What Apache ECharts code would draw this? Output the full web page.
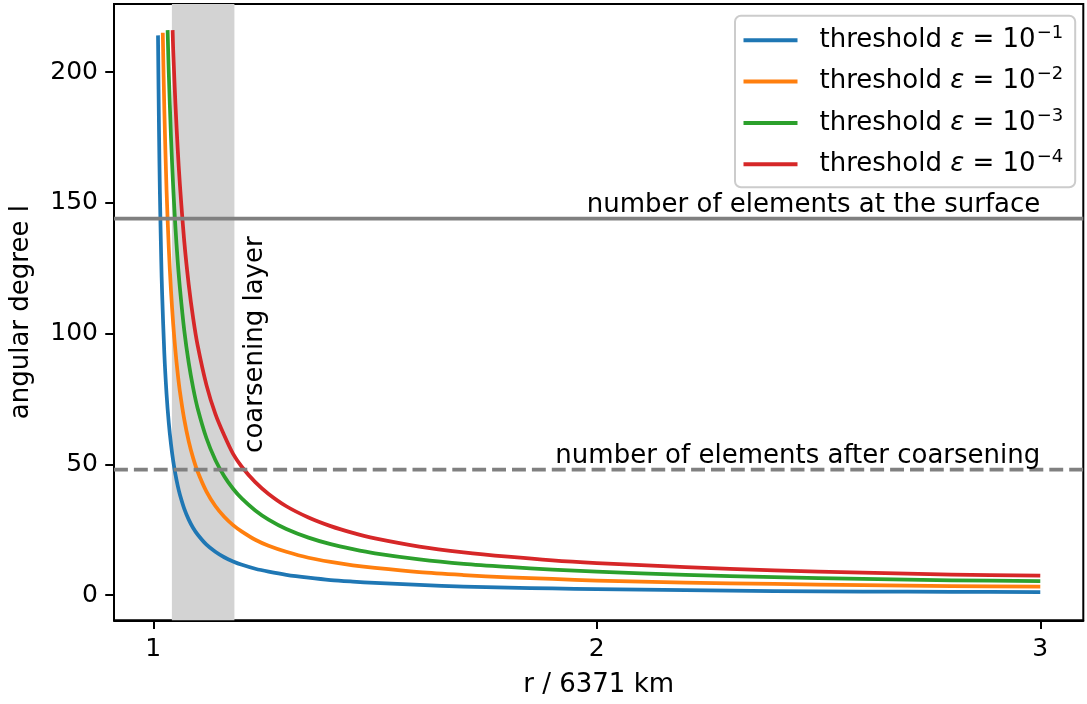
<!DOCTYPE html>
<html>
<head>
<meta charset="utf-8">
<script src="https://cdn.jsdelivr.net/npm/echarts@6/dist/echarts.min.js"></script>
<style>
html,body{margin:0;padding:0;background:#fff;}
#chart{width:1087px;height:704px;}
</style>
</head>
<body>
<div id="chart"></div>
<script>
// ---- data ----
const rEps1 = [1.0107,1.013,1.015,1.018,1.02,1.025,1.03,1.035,1.04,1.045,1.05,1.055,1.06,1.07,1.08,1.09,1.10,1.12,1.14,1.16,1.18,1.20,1.23,1.26,1.30,1.35,1.40,1.45,1.50,1.60,1.70,1.80,1.90,2.00,2.20,2.40,2.60,2.80,3.00];
const lEps1 = [214,177.3,153.7,128.1,115.3,92.3,76.9,65.9,57.7,51.3,46.2,42.0,38.5,33.0,28.9,25.7,23.2,19.3,16.6,14.5,12.9,11.6,10.1,9.0,7.8,6.7,5.8,5.2,4.7,3.9,3.3,2.9,2.6,2.3,1.9,1.6,1.4,1.25,1.2];

const rEps2 = [1.0215,1.025,1.03,1.035,1.04,1.045,1.05,1.055,1.06,1.07,1.08,1.09,1.10,1.12,1.14,1.16,1.18,1.20,1.23,1.26,1.30,1.35,1.40,1.45,1.50,1.60,1.70,1.80,1.90,2.00,2.20,2.40,2.60,2.80,3.00];
const lEps2 = [215,185.5,154.8,132.9,116.4,103.6,93.4,85.0,78.0,67.1,58.8,52.4,47.3,39.6,34.1,30.0,26.8,24.3,21.2,18.9,16.6,14.3,12.7,11.4,10.4,8.8,7.7,6.8,6.2,5.6,4.8,4.3,3.8,3.5,3.3];

const rEps3 = [1.0324,1.035,1.04,1.045,1.05,1.055,1.06,1.07,1.08,1.09,1.10,1.12,1.14,1.16,1.18,1.20,1.23,1.26,1.30,1.35,1.40,1.45,1.50,1.60,1.70,1.80,1.90,2.00,2.20,2.40,2.60,2.80,3.00];
const lEps3 = [216,199.8,175.1,155.9,140.6,128.0,117.6,101.1,88.8,79.2,71.5,60.0,51.7,45.5,40.7,36.9,32.4,28.9,25.3,22.0,19.5,17.6,16.0,13.7,12.0,10.8,9.8,9.0,7.8,6.9,6.2,5.7,5.4];

const rEps4 = [1.0437,1.045,1.05,1.055,1.06,1.07,1.08,1.09,1.10,1.12,1.14,1.16,1.18,1.20,1.23,1.26,1.30,1.35,1.40,1.45,1.50,1.60,1.70,1.80,1.90,2.00,2.20,2.40,2.60,2.80,3.00];
const lEps4 = [216,208.2,187.8,171.0,157.1,135.1,118.7,105.9,95.6,80.3,69.3,61.1,54.0,49.0,43.2,38.7,34.0,29.7,26.4,23.8,21.7,18.6,16.4,14.7,13.3,12.3,10.7,9.5,8.6,7.9,7.5];

const seriesNames = ['threshold ε = 10⁻¹','threshold ε = 10⁻²','threshold ε = 10⁻³','threshold ε = 10⁻⁴'];
const legendExp = ['−1','−2','−3','−4'];
const seriesColors = ['#1f77b4','#ff7f0e','#2ca02c','#d62728'];

const xTicks = [1,2,3];
const yTicks = [0,50,100,150,200];

const bandRange = [1.042, 1.183];          // coarsening layer (shaded)
const refLevels = [144, 48];               // horizontal reference lines
const refDashed = [false, true];

const annText = ['number of elements at the surface','number of elements after coarsening','coarsening layer'];
const annX = [3, 3, 1.2];
const annY = [144, 48, 54.4];

// ---- chart ----
const FONT = '"DejaVu Sans", "Liberation Sans", sans-serif';
const chart = echarts.init(document.getElementById('chart'), null, {renderer:'canvas'});

function zip(a, b){ return a.map((v, i) => [v, b[i]]); }
const rs = [rEps1, rEps2, rEps3, rEps4];
const ls = [lEps1, lEps2, lEps3, lEps4];

const lineSeries = seriesNames.map((name, i) => ({
  name: name,
  type: 'line',
  data: zip(rs[i], ls[i]),
  showSymbol: false,
  symbol: 'none',
  smooth: 0.3,
  z: 2,
  color: seriesColors[i],
  lineStyle: {width: 3.75, color: seriesColors[i], cap: 'butt', join: 'round'},
  emphasis: {disabled: true},
  animation: false
}));

const option = {
  animation: false,
  backgroundColor: '#ffffff',
  grid: {left: 113, right: 3.7, top: 4, bottom: 83.7, show: true, borderColor: '#000', borderWidth: 2, backgroundColor: 'transparent'},
  xAxis: {
    type: 'value', min: 0.9115, max: 3.097,
    name: 'r / 6371 km', nameLocation: 'middle', nameGap: 52,
    nameTextStyle: {fontFamily: FONT, fontSize: 26, color: '#000'},
    axisLine: {show: true, onZero: false, lineStyle: {color: '#000', width: 2}},
    axisTick: {show: true, length: 8.75, lineStyle: {color: '#000', width: 2}, customValues: xTicks},
    axisLabel: {fontFamily: FONT, fontSize: 25, color: '#000', margin: 17, customValues: xTicks},
    splitLine: {show: false}
  },
  yAxis: {
    type: 'value', min: -9.6, max: 226.0,
    name: 'angular degree l', nameLocation: 'middle', nameGap: 80,
    nameTextStyle: {fontFamily: FONT, fontSize: 26, color: '#000'},
    axisLine: {show: true, onZero: false, lineStyle: {color: '#000', width: 2}},
    axisTick: {show: true, length: 8.75, lineStyle: {color: '#000', width: 2}, customValues: yTicks},
    axisLabel: {fontFamily: FONT, fontSize: 25, color: '#000', margin: 16, customValues: yTicks},
    splitLine: {show: false}
  },
  legend: {
    data: seriesNames,
    orient: 'vertical',
    left: 735, top: 15.7,
    icon: 'rect',
    itemWidth: 54, itemHeight: 4,
    itemGap: 9.3,
    padding: [8.6, 12, 7, 8.5],
    backgroundColor: 'rgba(255,255,255,0.8)',
    borderColor: '#cccccc', borderWidth: 2, borderRadius: 6,
    selectedMode: false,
    formatter: function(name){
      const i = seriesNames.indexOf(name);
      return '{t|threshold }{it|ε}{t| = 10}{sup|' + legendExp[i] + '}';
    },
    textStyle: {
      fontFamily: FONT, fontSize: 26, color: '#000', padding: [0, 0, 0, 17],
      rich: {
        t: {fontFamily: FONT, fontSize: 26, color: '#000', lineHeight: 28},
        it: {fontFamily: FONT, fontSize: 26, fontStyle: 'italic', color: '#000', lineHeight: 28},
        sup: {fontFamily: FONT, fontSize: 18, color: '#000', lineHeight: 28, padding: [0, 0, 14, 1]}
      }
    }
  },
  series: [
    {
      type: 'custom', name: 'band', z: 1, silent: true,
      data: [bandRange],
      encode: {x: [0, 1]},
      renderItem: function(params, api){
        const cs = params.coordSys;
        const p0 = api.coord([api.value(0), 0]);
        const p1 = api.coord([api.value(1), 0]);
        return {type: 'rect', shape: {x: p0[0], y: cs.y, width: p1[0] - p0[0], height: cs.height},
                style: {fill: '#d3d3d3'}};
      }
    },
    ...lineSeries,
    {
      type: 'custom', name: 'refLines', z: 3, silent: true,
      data: refLevels.map((v, i) => [v, i]),
      encode: {y: 0},
      renderItem: function(params, api){
        const cs = params.coordSys;
        const p = api.coord([1, api.value(0)]);
        const dashed = refDashed[params.dataIndex];
        return {type: 'line', shape: {x1: cs.x, y1: p[1], x2: cs.x + cs.width, y2: p[1]},
                style: {stroke: '#808080', lineWidth: 3.75, lineDash: dashed ? [13.9, 6] : null}};
      }
    },
    {
      type: 'custom', name: 'annotations', z: 4, silent: true,
      data: annX.map((x, i) => [x, annY[i]]),
      encode: {x: 0, y: 1},
      renderItem: function(params, api){
        const i = params.dataIndex;
        const p = api.coord([api.value(0), api.value(1)]);
        if (i < 2) {
          return {type: 'text', x: p[0], y: p[1],
                  style: {text: annText[i], fill: '#000', font: '26px ' + FONT, align: 'right', verticalAlign: 'bottom'}};
        }
        return {type: 'text', x: p[0], y: p[1], rotation: Math.PI / 2,
                style: {text: annText[i], fill: '#000', font: '26px ' + FONT, align: 'left', verticalAlign: 'top'}};
      }
    }
  ]
};
chart.setOption(option);
</script>
</body>
</html>
